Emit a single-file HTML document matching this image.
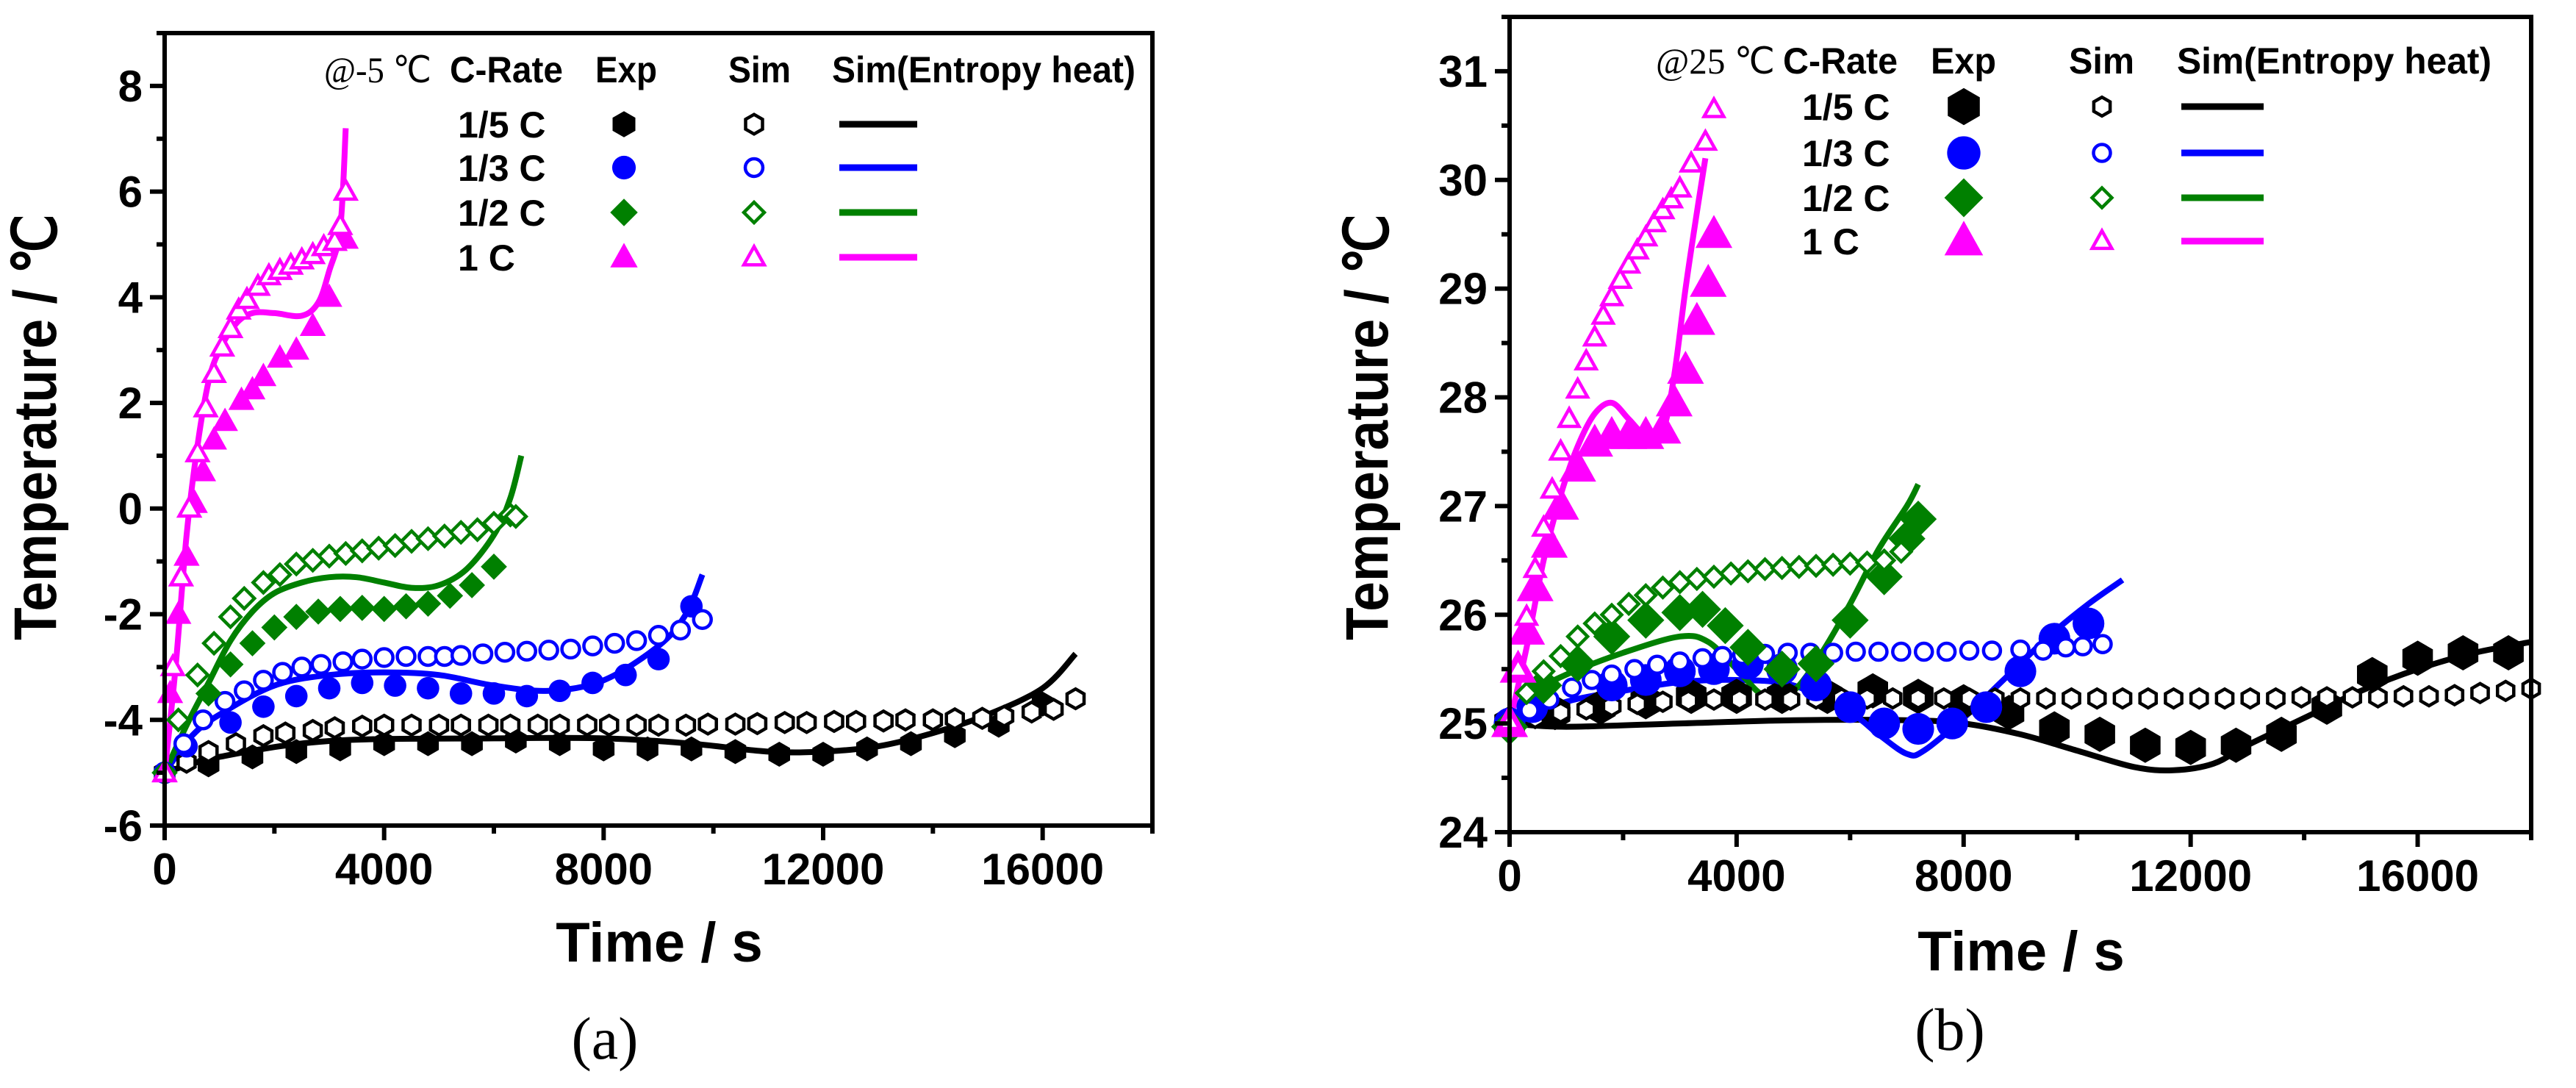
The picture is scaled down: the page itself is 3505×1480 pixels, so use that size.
<!DOCTYPE html>
<html><head><meta charset="utf-8"><style>
html,body{margin:0;padding:0;background:#fff;}
svg{display:block;}
text{font-family:"Liberation Sans",sans-serif;font-weight:bold;fill:#000;}
.serif{font-family:"Liberation Serif",serif;font-weight:normal;}
</style></head><body>
<svg id="fig" width="3505" height="1480" viewBox="0 0 3505 1480" xmlns="http://www.w3.org/2000/svg">
<g id="pa"></g>
<g id="pb"></g>
</svg>
<script>
// ---------- Panel (a) data, @-5 C ----------
const a_r5_exp_t=[0,800,1600,2400,3200,4000,4800,5600,6400,7200,8000,8800,9600,10400,11200,12000,12800,13600,14400,15200,16000];
const a_r5_exp_v=[-5,-4.85,-4.7,-4.6,-4.55,-4.45,-4.45,-4.45,-4.4,-4.45,-4.55,-4.55,-4.55,-4.6,-4.65,-4.65,-4.55,-4.45,-4.3,-4.1,-3.7];
const a_r5_sim_t=[0,400,800,1300,1800,2200,2700,3100,3600,4000,4500,5000,5400,5900,6300,6800,7200,7700,8100,8600,9000,9500,9900,10400,10800,11300,11700,12200,12600,13100,13500,14000,14400,14900,15300,15800,16200,16600];
const a_r5_sim_v=[-5,-4.8,-4.6,-4.45,-4.3,-4.25,-4.2,-4.15,-4.12,-4.1,-4.1,-4.1,-4.1,-4.1,-4.1,-4.1,-4.1,-4.1,-4.1,-4.1,-4.1,-4.1,-4.08,-4.08,-4.07,-4.05,-4.05,-4.03,-4.03,-4.02,-4.0,-4.0,-3.98,-3.97,-3.93,-3.85,-3.8,-3.6];
const a_r5_line_t=[0,1000,3000,6000,8000,9600,11000,12000,13000,14000,15000,16000,16600];
const a_r5_line_v=[-5,-4.7,-4.4,-4.35,-4.35,-4.45,-4.6,-4.6,-4.5,-4.25,-3.9,-3.4,-2.75];
const a_r3_exp_t=[0,400,1200,1800,2400,3000,3600,4200,4800,5400,6000,6600,7200,7800,8400,9000,9600];
const a_r3_exp_v=[-5,-4.5,-4.05,-3.75,-3.55,-3.4,-3.3,-3.35,-3.4,-3.5,-3.5,-3.55,-3.45,-3.3,-3.15,-2.85,-1.85];
const a_r3_sim_t=[0,350,700,1100,1450,1800,2150,2500,2850,3250,3600,4000,4400,4800,5100,5400,5800,6200,6600,7000,7400,7800,8200,8600,9000,9400,9800];
const a_r3_sim_v=[-5,-4.45,-4.0,-3.65,-3.45,-3.25,-3.1,-3.0,-2.95,-2.9,-2.85,-2.82,-2.8,-2.8,-2.8,-2.78,-2.75,-2.72,-2.7,-2.68,-2.66,-2.6,-2.55,-2.5,-2.4,-2.3,-2.1];
const a_r3_line_t=[0,500,1000,2000,3000,4000,5000,6000,7000,8000,9000,9500,9800];
const a_r3_line_v=[-5,-4.3,-3.9,-3.35,-3.15,-3.1,-3.15,-3.35,-3.45,-3.25,-2.6,-2.0,-1.25];
const a_r2_exp_t=[0,800,1200,1600,2000,2400,2800,3200,3600,4000,4400,4800,5200,5600,6000];
const a_r2_exp_v=[-5,-3.5,-2.95,-2.55,-2.25,-2.05,-1.95,-1.9,-1.88,-1.9,-1.85,-1.8,-1.65,-1.45,-1.1];
const a_r2_sim_t=[0,250,600,900,1200,1450,1800,2100,2400,2700,3000,3300,3600,3900,4200,4500,4800,5100,5400,5700,6000,6300,6400];
const a_r2_sim_v=[-5,-4.0,-3.15,-2.55,-2.05,-1.7,-1.4,-1.25,-1.05,-0.98,-0.9,-0.85,-0.8,-0.75,-0.7,-0.62,-0.57,-0.52,-0.45,-0.4,-0.28,-0.12,-0.15];
const a_r2_line_t=[0,400,800,1200,1600,2000,2500,3000,3500,4000,4500,5000,5500,6000,6300,6500];
const a_r2_line_v=[-5,-4.1,-3.3,-2.5,-1.95,-1.6,-1.4,-1.3,-1.3,-1.4,-1.5,-1.45,-1.15,-0.5,0.2,1.0];
const a_r1_exp_t=[0,100,250,400,550,700,900,1100,1400,1600,1800,2100,2400,2700,3000,3300];
const a_r1_exp_v=[-5,-3.5,-2.0,-0.9,0.1,0.7,1.3,1.65,2.05,2.25,2.5,2.85,3.0,3.45,4.0,5.1];
const a_r1_sim_t=[0,150,300,450,600,750,900,1050,1200,1350,1500,1700,1900,2100,2300,2500,2700,2900,3100,3200,3300];
const a_r1_sim_v=[-5,-3.0,-1.3,0.0,1.05,1.9,2.55,3.05,3.4,3.75,3.95,4.2,4.4,4.5,4.6,4.7,4.8,4.95,5.05,5.35,6.0];
const a_r1_line_t=[0,200,400,600,800,1000,1300,1600,2000,2500,2800,3000,3200,3300];
const a_r1_line_v=[-5,-3,-0.5,1.2,2.4,3.0,3.5,3.7,3.7,3.65,3.9,4.5,5.3,7.2];
const a_xticks=[0,4000,8000,12000,16000];
const a_yticks=[-6,-4,-2,0,2,4,6,8];

// ---------- Panel (b) data, @25 C ----------
const b_r5_exp_t=[0,800,1600,2400,3200,4000,4800,5600,6400,7200,8000,8800,9600,10400,11200,12000,12800,13600,14400,15200,16000,16800,17600];
const b_r5_exp_v=[25,25.1,25.15,25.2,25.25,25.25,25.25,25.25,25.3,25.25,25.2,25.1,24.95,24.9,24.8,24.78,24.8,24.9,25.15,25.45,25.6,25.65,25.65];
const b_r5_sim_t=[0,450,900,1350,1800,2250,2700,3150,3600,4050,4500,4950,5400,5850,6300,6750,7200,7650,8100,8550,9000,9450,9900,10350,10800,11250,11700,12150,12600,13050,13500,13950,14400,14850,15300,15750,16200,16650,17100,17550,18000];
const b_r5_sim_v=[25.0,25.05,25.1,25.13,25.16,25.18,25.2,25.21,25.22,25.22,25.22,25.22,25.23,25.23,25.23,25.23,25.23,25.23,25.23,25.23,25.23,25.23,25.23,25.23,25.23,25.23,25.23,25.23,25.23,25.23,25.23,25.24,25.24,25.24,25.24,25.25,25.25,25.26,25.28,25.3,25.32];
const b_r5_line_t=[0,1000,3000,5000,7000,8000,9000,10000,11000,11700,12400,13000,14000,15000,16000,17000,18000];
const b_r5_line_v=[25.0,24.97,25.0,25.03,25.03,25.0,24.9,24.75,24.6,24.57,24.63,24.8,25.05,25.3,25.5,25.65,25.75];
const b_r3_exp_t=[0,400,1800,2400,3000,3600,4200,4800,5400,6000,6600,7200,7800,8400,9000,9600,10200];
const b_r3_exp_v=[25,25.15,25.35,25.4,25.48,25.5,25.55,25.5,25.35,25.15,25.0,24.95,25.0,25.15,25.48,25.78,25.92];
const b_r3_sim_t=[0,350,700,1100,1450,1800,2200,2600,3000,3400,3750,4100,4500,4900,5300,5700,6100,6500,6900,7300,7700,8100,8500,9000,9400,9800,10100,10450];
const b_r3_sim_v=[25.0,25.12,25.22,25.33,25.4,25.45,25.5,25.54,25.57,25.6,25.62,25.63,25.64,25.65,25.65,25.65,25.66,25.66,25.66,25.66,25.66,25.67,25.67,25.68,25.67,25.7,25.71,25.73];
const b_r3_line_t=[0,1000,2000,3000,4000,5000,6000,6500,7000,7300,8000,8700,9500,10200,10800];
const b_r3_line_v=[25,25.2,25.3,25.38,25.4,25.35,25.1,24.9,24.72,24.75,25.05,25.4,25.8,26.1,26.32];
const b_r2_exp_t=[0,600,1200,1800,2400,3000,3400,3800,4200,4800,5400,6000,6600,7000,7200];
const b_r2_exp_v=[24.97,25.35,25.55,25.8,25.95,26.02,26.05,25.9,25.7,25.5,25.55,25.95,26.35,26.7,26.88];
const b_r2_sim_t=[0,300,600,900,1200,1500,1800,2100,2400,2700,3000,3300,3600,3900,4200,4500,4800,5100,5400,5700,6000,6300,6600,6900];
const b_r2_sim_v=[25.0,25.28,25.48,25.62,25.8,25.92,26.0,26.1,26.18,26.25,26.3,26.33,26.35,26.38,26.4,26.42,26.43,26.44,26.45,26.46,26.47,26.48,26.5,26.58];
const b_r2_line_t=[0,500,1000,2000,3000,3500,4000,4500,5000,5500,6000,6500,7000,7200];
const b_r2_line_v=[25,25.3,25.45,25.65,25.8,25.75,25.5,25.25,25.3,25.65,26.1,26.6,27.0,27.2];
const b_r1_exp_t=[0,150,300,450,700,900,1200,1500,1800,2100,2400,2700,2900,3100,3300,3500,3600];
const b_r1_exp_v=[25.0,25.5,25.85,26.25,26.65,27.0,27.35,27.58,27.65,27.65,27.65,27.7,27.95,28.25,28.7,29.05,29.5];
const b_r1_sim_t=[0,150,300,450,600,750,900,1050,1200,1350,1500,1650,1800,1950,2100,2250,2400,2550,2700,2850,3000,3200,3450,3600];
const b_r1_sim_v=[25.02,25.5,25.98,26.42,26.8,27.15,27.5,27.8,28.07,28.33,28.55,28.75,28.92,29.08,29.22,29.35,29.47,29.6,29.72,29.82,29.92,30.15,30.35,30.65];
const b_r1_line_t=[0,300,600,900,1200,1500,1800,2100,2400,2700,2900,3100,3300,3450];
const b_r1_line_v=[25,25.7,26.5,27.1,27.55,27.85,27.95,27.8,27.65,27.7,28.2,29.0,29.7,30.2];
const b_xticks=[0,4000,8000,12000,16000];
const b_yticks=[24,25,26,27,28,29,30,31];

const NS="http://www.w3.org/2000/svg";
function mk(parent,tag,attrs){const e=document.createElementNS(NS,tag);for(const k in attrs)e.setAttribute(k,attrs[k]);parent.appendChild(e);return e;}
const COL={r5:"#000000",r3:"#0000ff",r2:"#008000",r1:"#ff00ff"};

function hexPts(cx,cy,r){let p=[];for(let i=0;i<6;i++){const a=Math.PI/6+i*Math.PI/3;p.push((cx+r*Math.cos(a)).toFixed(1)+","+(cy+r*Math.sin(a)).toFixed(1));}return p.join(" ");}
function marker(g,shape,cx,cy,size,color,filled){
  const sw=filled?0:4.5;const r=size/2-(filled?0:2.2);let e;
  if(shape==="hex"){e=mk(g,"polygon",{points:hexPts(cx,cy,r)});}
  else if(shape==="circle"){e=mk(g,"circle",{cx:cx,cy:cy,r:r*0.9});}
  else if(shape==="diamond"){const s=r*1.05;e=mk(g,"polygon",{points:`${cx},${cy-s} ${cx+s},${cy} ${cx},${cy+s} ${cx-s},${cy}`});}
  else {const s=r*1.1;e=mk(g,"polygon",{points:`${cx},${cy-s} ${cx+s*0.95},${cy+s*0.7} ${cx-s*0.95},${cy+s*0.7}`});}
  e.setAttribute("fill",filled?color:"#fff");e.setAttribute("stroke",color);e.setAttribute("stroke-width",sw);
  return e;
}
function smoothPath(pts){
  let d="M"+pts[0][0].toFixed(1)+","+pts[0][1].toFixed(1);
  for(let i=0;i<pts.length-1;i++){
    const p0=pts[Math.max(0,i-1)],p1=pts[i],p2=pts[i+1],p3=pts[Math.min(pts.length-1,i+2)];
    const c1x=p1[0]+(p2[0]-p0[0])/6,c1y=p1[1]+(p2[1]-p0[1])/6,c2x=p2[0]-(p3[0]-p1[0])/6,c2y=p2[1]-(p3[1]-p1[1])/6;
    d+=` C${c1x.toFixed(1)},${c1y.toFixed(1)} ${c2x.toFixed(1)},${c2y.toFixed(1)} ${p2[0].toFixed(1)},${p2[1].toFixed(1)}`;
  }
  return d;
}

function panel(g,cfg){
  const {L,R,T,B,ymin,ymax,xticks,yticks,yminor}=cfg;
  const X=t=>L+(t/18000)*(R-L);
  const Y=v=>B-(v-ymin)/(ymax-ymin)*(B-T);
  const plot=mk(g,"g",{});
  
  
  const series=cfg.series;
  series.forEach(s=>{
    const ln=mk(plot,"path",{d:smoothPath(s.lt.map((t,i)=>[X(t),Y(s.lv[i])])),fill:"none",stroke:s.col,"stroke-width":8,"stroke-linejoin":"round"});
    
    
  });
  series.forEach(s=>{
    const ge=mk(plot,"g",{});
    
    
    s.et.forEach((t,i)=>{const m=marker(ge,s.shape,X(t),Y(s.ev[i]),cfg.expSize,s.col,true);
      
      });
    const gs=mk(plot,"g",{});
    
    
    s.st.forEach((t,i)=>{const m=marker(gs,s.shape,X(t),Y(s.sv[i]),cfg.simSize,s.col,false);
      
      });
  });
  const fr=mk(g,"rect",{x:L,y:T,width:R-L,height:B-T,fill:"none",stroke:"#000","stroke-width":6});
  
  
  const xa=mk(g,"g",{});
  
  
  for(let t=0;t<=18000;t+=2000){const maj=t%4000===0;mk(xa,"line",{x1:X(t),x2:X(t),y1:B,y2:B+(maj?20:11),stroke:"#000","stroke-width":6});}
  xticks.forEach(t=>{const e=mk(xa,"text",{x:X(t),y:B+80,"font-size":60,"text-anchor":"middle"});e.textContent=t;
    
    });
  const xt=mk(g,"text",{x:cfg.xtx,y:cfg.xty,"font-size":76,"text-anchor":"middle"});xt.textContent="Time / s";
  
  
  const ya=mk(g,"g",{});
  
  
  for(let v=ymin;v<=ymax+1e-9;v+=yminor){const maj=Math.abs(v-Math.round(v/cfg.ymajor)*cfg.ymajor)<1e-6;mk(ya,"line",{x1:L,x2:L-(maj?20:11),y1:Y(v),y2:Y(v),stroke:"#000","stroke-width":6});}
  yticks.forEach(v=>{const e=mk(ya,"text",{x:L-30,y:Y(v)+21,"font-size":60,"text-anchor":"end"});e.textContent=v;
    
    });
  const yt=mk(g,"text",{x:0,y:0,"font-size":82,"text-anchor":"middle",transform:`translate(${cfg.ytx},${cfg.yty}) rotate(-90)`,textLength:580,lengthAdjust:"spacingAndGlyphs"});yt.textContent="Temperature / ℃";
  
  
  const cap=mk(g,"text",{x:cfg.capx,y:cfg.capy,"font-size":82,"text-anchor":"middle",class:"serif"});cap.textContent=cfg.cap;
  
  
  const lg=mk(g,"g",{});
  
  
  const lz=cfg.leg;
  const hdr=[[lz.tempTxt,lz.tempX,lz.tempW,true],["C-Rate",lz.crX,lz.crW,false],["Exp",lz.expHX,lz.expHW,false],["Sim",lz.simHX,lz.simHW,false],["Sim(Entropy heat)",lz.entX,lz.entW,false]];
  hdr.forEach(h=>{const e=mk(lg,"text",{x:h[1],y:lz.hy+18,"font-size":50,textLength:h[2],lengthAdjust:"spacingAndGlyphs"});
    if(h[3])e.setAttribute("class","serif");e.textContent=h[0];
    
    });
  const labels=["1/5 C","1/3 C","1/2 C","1 C"];
  series.forEach((s,i)=>{const y=lz.rows[i];
    const e=mk(lg,"text",{x:lz.labX,y:y+18,"font-size":50});e.textContent=labels[i];
    
    
    marker(lg,s.shape,lz.expX,y,cfg.expSize*1.05,s.col,true);
    marker(lg,s.shape,lz.simX,y,cfg.simSize,s.col,false);
    mk(lg,"line",{x1:lz.l1,x2:lz.l2,y1:y,y2:y,stroke:s.col,"stroke-width":9});
  });
}

panel(document.getElementById("pa"),{L:224,R:1568,T:45,B:1123,ymin:-6,ymax:9,ymajor:2,yminor:1,xticks:a_xticks,yticks:a_yticks,
  expSize:34,simSize:31,xtx:897,xty:1308,ytx:76,yty:581,capx:823,capy:1440,cap:"(a)",
  series:[
   {key:"rate-1-5c",col:COL.r5,shape:"hex",et:a_r5_exp_t,ev:a_r5_exp_v,st:a_r5_sim_t,sv:a_r5_sim_v,lt:a_r5_line_t,lv:a_r5_line_v},
   {key:"rate-1-3c",col:COL.r3,shape:"circle",et:a_r3_exp_t,ev:a_r3_exp_v,st:a_r3_sim_t,sv:a_r3_sim_v,lt:a_r3_line_t,lv:a_r3_line_v},
   {key:"rate-1-2c",col:COL.r2,shape:"diamond",et:a_r2_exp_t,ev:a_r2_exp_v,st:a_r2_sim_t,sv:a_r2_sim_v,lt:a_r2_line_t,lv:a_r2_line_v},
   {key:"rate-1c",col:COL.r1,shape:"tri",et:a_r1_exp_t,ev:a_r1_exp_v,st:a_r1_sim_t,sv:a_r1_sim_v,lt:a_r1_line_t,lv:a_r1_line_v}],
  leg:{tempTxt:"@-5 ℃",tempX:441,tempW:146,crX:612,crW:154,expHX:810,expHW:84,simHX:991,simHW:85,entX:1132,entW:413,hy:94,
   rows:[169,228,289,350],labX:623,expX:849,simX:1026,l1:1142,l2:1248}});

panel(document.getElementById("pb"),{L:2054,R:3444,T:23,B:1132,ymin:24,ymax:31.5,ymajor:1,yminor:0.5,xticks:b_xticks,yticks:b_yticks,
  expSize:48,simSize:30,xtx:2750,xty:1320,ytx:1888,yty:581,capx:2653,capy:1428,cap:"(b)",
  series:[
   {key:"rate-1-5c",col:COL.r5,shape:"hex",et:b_r5_exp_t,ev:b_r5_exp_v,st:b_r5_sim_t,sv:b_r5_sim_v,lt:b_r5_line_t,lv:b_r5_line_v},
   {key:"rate-1-3c",col:COL.r3,shape:"circle",et:b_r3_exp_t,ev:b_r3_exp_v,st:b_r3_sim_t,sv:b_r3_sim_v,lt:b_r3_line_t,lv:b_r3_line_v},
   {key:"rate-1-2c",col:COL.r2,shape:"diamond",et:b_r2_exp_t,ev:b_r2_exp_v,st:b_r2_sim_t,sv:b_r2_sim_v,lt:b_r2_line_t,lv:b_r2_line_v},
   {key:"rate-1c",col:COL.r1,shape:"tri",et:b_r1_exp_t,ev:b_r1_exp_v,st:b_r1_sim_t,sv:b_r1_sim_v,lt:b_r1_line_t,lv:b_r1_line_v}],
  leg:{tempTxt:"@25 ℃",tempX:2253,tempW:162,crX:2426,crW:156,expHX:2627,expHW:89,simHX:2815,simHW:89,entX:2962,entW:428,hy:82,
   rows:[145,208,269,328],labX:2452,expX:2672,simX:2860,l1:2968,l2:3080}});
</script>
</body></html>
